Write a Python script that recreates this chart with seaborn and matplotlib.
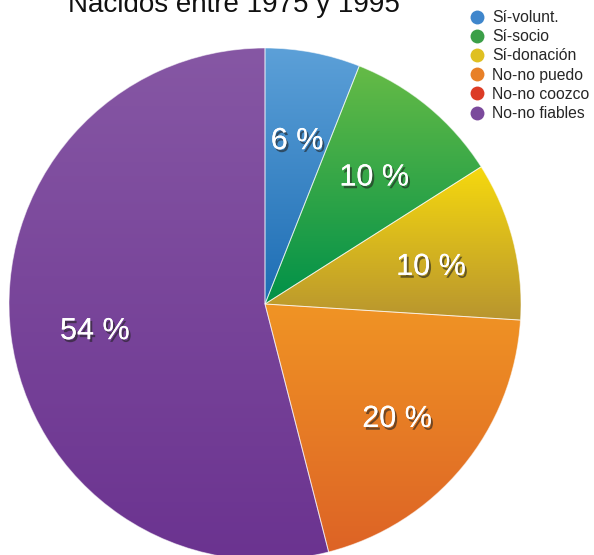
import numpy as np
import matplotlib
matplotlib.use("Agg")
import matplotlib.pyplot as plt
import matplotlib.patheffects as pe
from matplotlib.colors import LinearSegmentedColormap
from matplotlib.lines import Line2D
import seaborn as sns

sns.set_style("white")
plt.rcParams['font.family'] = ['Liberation Sans', 'DejaVu Sans']

title = "Nacidos entre 1975 y 1995"
categories = ["Sí-volunt.", "Sí-socio", "Sí-donación", "No-no puedo", "No-no coozco", "No-no fiables"]
values = [6, 10, 10, 20, 0, 54]
pct_labels = ["6 %", "10 %", "10 %", "20 %", "", "54 %"]

top_colors = ["#5ca0d8", "#66bb46", "#f6d90e", "#f09424", "#e04a2a", "#8657a4"]
bottom_colors = ["#1d6db4", "#009149", "#b8952f", "#dd6326", "#c0301f", "#6b3390"]
legend_colors = ["#3f86cc", "#3b9f48", "#dfc022", "#e88028", "#dc3b25", "#7b4a9c"]

fig = plt.figure(figsize=(5.94, 5.55), dpi=100)
cx, cy, r = 265, 304, 256
W, H = 594, 555
ax = fig.add_axes([(cx - r) / W, (H - cy - r) / H, 2 * r / W, 2 * r / H])

wedges, _ = ax.pie(values, startangle=90, counterclock=False, radius=1,
                   colors=top_colors,
                   wedgeprops=dict(edgecolor=(1, 1, 1, 0.55), linewidth=0.7))

for w, c0, c1, v in zip(wedges, top_colors, bottom_colors, values):
    if v == 0:
        w.set_visible(False)
        continue
    ext = w.get_path().get_extents(w.get_transform() - ax.transData)
    cmap = LinearSegmentedColormap.from_list("g", [c1, c0])
    grad = np.linspace(0, 1, 256).reshape(-1, 1)
    im = ax.imshow(grad, cmap=cmap, origin="lower", aspect="auto",
                   extent=(ext.x0, ext.x1, ext.y0, ext.y1), zorder=1)
    im.set_clip_path(w)
    w.set_facecolor("none")
    w.set_zorder(2)

# percentage labels
cum = 0
for v, lab in zip(values, pct_labels):
    mid = cum + v / 2
    cum += v
    if not lab:
        continue
    ang = np.deg2rad(90 - mid * 3.6)
    d = 0.67
    ax.text(d * np.cos(ang), d * np.sin(ang) - 0.022, lab, ha="center", va="center",
            fontsize=22, color="white", zorder=5,
            path_effects=[pe.withSimplePatchShadow(offset=(1.5, -2), shadow_rgbFace="#222222", alpha=0.6),
                          pe.Normal()])

ax.set_xlim(-1, 1)
ax.set_ylim(-1, 1)
ax.set_aspect("equal")
ax.axis("off")

fig.text(234 / W, 1 - 12 / H, title, ha="center", va="baseline", fontsize=20, color="#111111")

handles = [Line2D([], [], marker="o", linestyle="none", markersize=10,
                  markerfacecolor=c, markeredgecolor="none") for c in legend_colors]
leg = fig.legend(handles, categories, loc="upper left",
                 bbox_to_anchor=(470 / W, 1 - 10 / H), frameon=False,
                 fontsize=11.3, labelspacing=0.27, handlelength=0.9,
                 handletextpad=0.5, borderpad=0, borderaxespad=0)

fig.savefig("out.png", dpi=100)
